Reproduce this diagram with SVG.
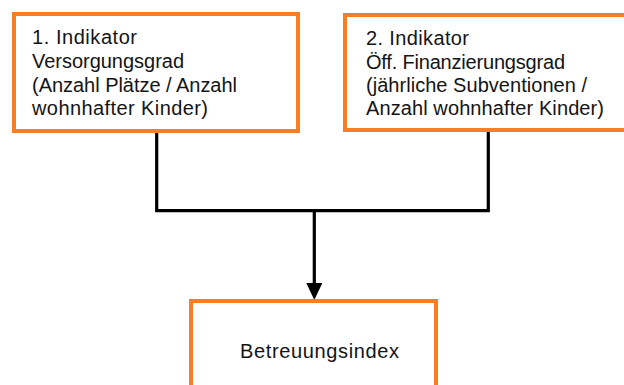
<svg xmlns="http://www.w3.org/2000/svg" width="624" height="385" viewBox="0 0 624 385">
<style>
.box{fill:#fff;stroke:#FA7D23;stroke-width:4}
.t{font-family:"Liberation Sans",Arial,sans-serif;font-size:20px;fill:#141414}
.c{fill:none;stroke:#000;stroke-width:3.2}
</style>
<defs>
<marker id="ah" viewBox="0 0 16 17" refX="8" refY="0" markerUnits="userSpaceOnUse" markerWidth="16" markerHeight="17" orient="0">
<path d="M0 0 L16 0 L8 17 Z" fill="#000"/>
</marker>
</defs>
<rect width="624" height="385" fill="#fff"/>
<g id="connectors">
<path class="c" d="M156.7 131 V210.7 H488.3 V131"/>
<path class="c" d="M314.3 210.7 V283" marker-end="url(#ah)"/>
</g>
<g id="node1">
<rect class="box" x="14" y="14" width="284" height="117"/>
<text class="t" x="32" y="44" textLength="105" lengthAdjust="spacing">1. Indikator</text>
<text class="t" x="32" y="68" textLength="152" lengthAdjust="spacing">Versorgungsgrad</text>
<text class="t" x="32" y="91.5" textLength="205" lengthAdjust="spacing">(Anzahl Plätze / Anzahl</text>
<text class="t" x="32" y="115" textLength="176" lengthAdjust="spacing">wohnhafter Kinder)</text>
</g>
<g id="node2">
<rect class="box" x="345" y="15" width="284" height="115"/>
<text class="t" x="366" y="45" textLength="103" lengthAdjust="spacing">2. Indikator</text>
<text class="t" x="366" y="68.5" textLength="199" lengthAdjust="spacing">Öff. Finanzierungsgrad</text>
<text class="t" x="366" y="92" textLength="221" lengthAdjust="spacing">(jährliche Subventionen /</text>
<text class="t" x="366" y="115" textLength="238" lengthAdjust="spacing">Anzahl wohnhafter Kinder)</text>
</g>
<g id="node3">
<rect class="box" x="191" y="301" width="245" height="100"/>
<text class="t" x="240" y="358.3" textLength="159" lengthAdjust="spacing">Betreuungsindex</text>
</g>
</svg>
